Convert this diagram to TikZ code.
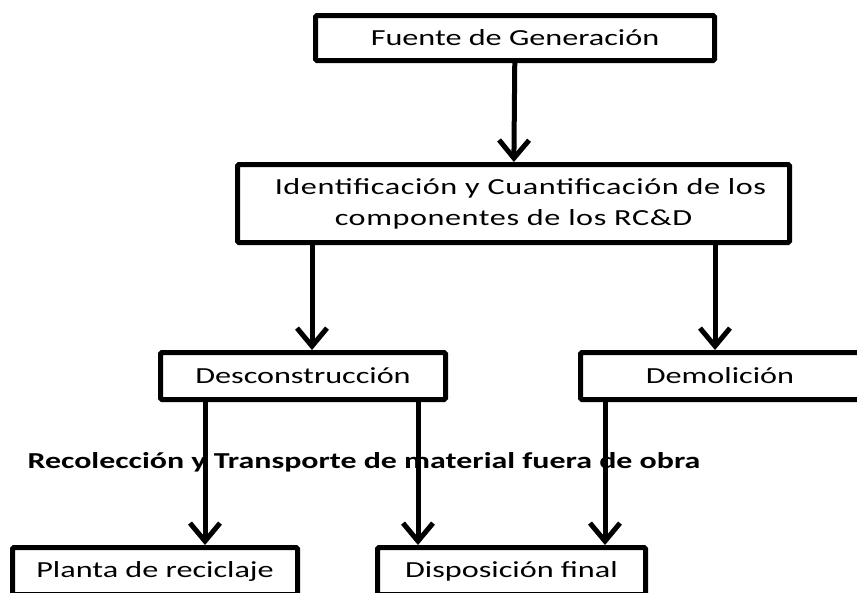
\documentclass[tikz,border=0pt]{standalone}
\usepackage{fontspec}
\setmainfont[FakeStretch=1.4]{Carlito}
\usetikzlibrary{arrows.meta}

\begin{document}
\begin{tikzpicture}[x=1pt,y=-1pt,
    box/.style={draw,line width=5pt,rounded corners=1.5pt,inner sep=0pt,
                align=center,font=\fontsize{23}{31}\selectfont},
    flow/.style={line width=5pt,-{Straight Barb[length=18pt,width=30pt,line width=5pt]}}]
  \useasboundingbox (0,0) rectangle (857,592);
  \clip (0,0) rectangle (857,592);
  \node[box,minimum width=399pt,minimum height=45pt] (fuente) at (515,38) {Fuente de Generación};
  \node[box,minimum width=552pt,minimum height=78pt] (ident) at (513.5,203.5)
       {\addfontfeature{LetterSpace=2.5}\hspace*{14pt}Identificación y Cuantificación de los\\
        \addfontfeature{LetterSpace=2.5}componentes de los RC\&D};
  \node[box,minimum width=285pt,minimum height=47pt] (descon) at (303,376) {Desconstrucción};
  \node[box,minimum width=279pt,minimum height=47pt] (demol) at (720,376) {Demolición};
  \node[box,minimum width=285pt,minimum height=47pt] (planta) at (155,571) {Planta de reciclaje};
  \node[box,minimum width=268pt,minimum height=47pt] (dispo) at (511.5,571) {Disposición final};
  \node[font=\fontsize{22.8}{27}\selectfont\bfseries] (recol) at (364,462)
       {Recolección y Transporte de material fuera de obra};
  \draw[flow] (fuente) -- (ident);
  \draw[flow] ([xshift=-201.5pt]ident.south) -- ([xshift=-201.5pt]ident.south |- descon.north);
  \draw[flow] ([xshift=201.5pt]ident.south) -- ([xshift=201.5pt]ident.south |- demol.north);
  \draw[flow] ([xshift=-98pt]descon.south) -- ([xshift=-98pt]descon.south |- planta.north);
  \draw[flow] ([xshift=115pt]descon.south) -- ([xshift=115pt]descon.south |- dispo.north);
  \draw[flow] ([xshift=-115pt]demol.south) -- ([xshift=-115pt]demol.south |- dispo.north);
\end{tikzpicture}
\end{document}
